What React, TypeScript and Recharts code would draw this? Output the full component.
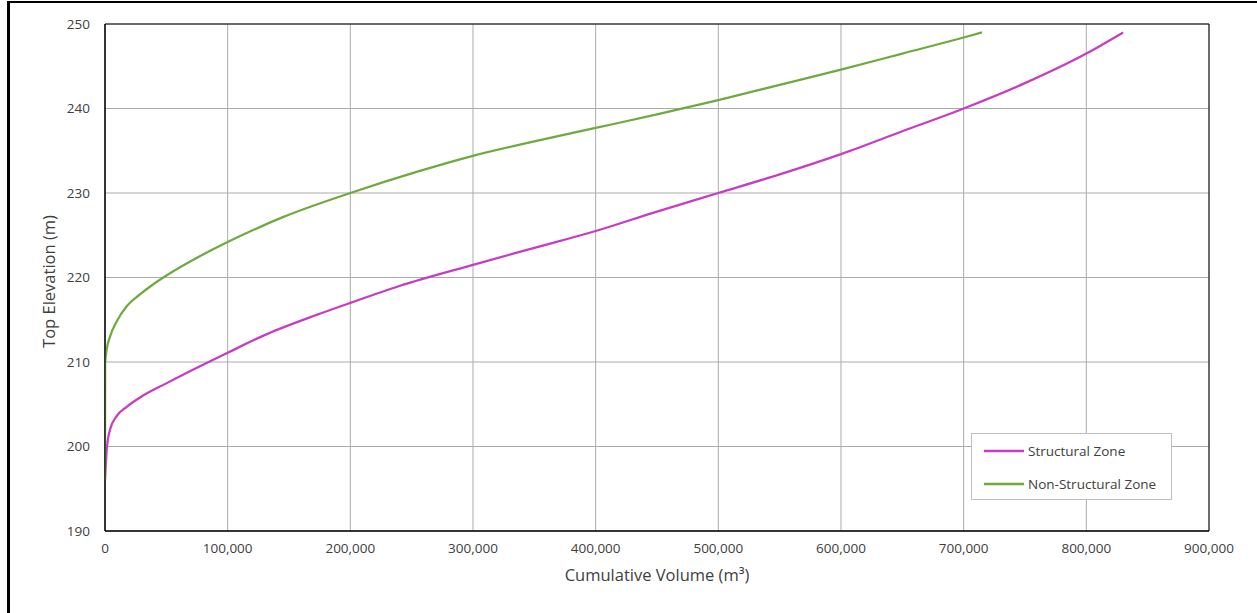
import {
  LineChart,
  Line,
  XAxis,
  YAxis,
  CartesianGrid,
  Legend,
  ReferenceArea,
} from 'recharts';

// Structural zone: cumulative volume (m3) vs top elevation (m)
const structuralVolume = [
  0, 1400, 4100, 9500, 17700, 28500, 50300, 77400, 100000, 132000, 173000, 200000, 240000,
  300000, 350000, 400000, 450000, 500000, 550000, 600000, 650000, 700000, 750000, 800000, 830000,
];
const structuralElevation = [
  196.1, 199.6, 202.0, 203.6, 204.7, 205.8, 207.5, 209.5, 211.1, 213.3, 215.6, 217.0, 219.0,
  221.5, 223.5, 225.5, 227.8, 230.0, 232.2, 234.6, 237.3, 240.0, 243.0, 246.5, 249.0,
];

// Non-structural zone
const nonStructuralVolume = [
  0, 100, 1400, 4100, 9500, 17700, 28500, 39400, 53000, 72000, 100000, 119000, 146000, 200000,
  254000, 300000, 350000, 400000, 450000, 500000, 550000, 600000, 650000, 700000, 715000,
];
const nonStructuralElevation = [
  196, 209.8, 211.5, 213.0, 214.8, 216.6, 218.0, 219.2, 220.5, 222.1, 224.2, 225.5, 227.2, 230.0,
  232.5, 234.4, 236.1, 237.7, 239.3, 241.0, 242.8, 244.6, 246.5, 248.4, 249.0,
];

const seriesNames = ['Structural Zone', 'Non-Structural Zone'];
const xTicks = [0, 100000, 200000, 300000, 400000, 500000, 600000, 700000, 800000, 900000];
const yTicks = [190, 200, 210, 220, 230, 240, 250];

const structuralData = structuralVolume.map((v, i) => ({ vol: v, elev: structuralElevation[i] }));
const nonStructuralData = nonStructuralVolume.map((v, i) => ({ vol: v, elev: nonStructuralElevation[i] }));

const FONT = '"Open Sans", sans-serif';
const TEXT = '#404040';

function YTitle({ viewBox }: any) {
  const cx = 48;
  const cy = viewBox.y + viewBox.height / 2 + 4;
  return (
    <text
      x={cx}
      y={cy}
      transform={`rotate(-90 ${cx} ${cy})`}
      textAnchor="middle"
      dominantBaseline="central"
      fill={TEXT}
      fontSize={16.5}
      fontFamily={FONT}
    >
      Top Elevation (m)
    </text>
  );
}

function LegendBox({ payload }: any) {
  return (
    <div
      style={{
        width: 201,
        height: 67,
        boxSizing: 'border-box',
        border: '1px solid #BFBFBF',
        background: '#fff',
        fontFamily: FONT,
        fontSize: 13.5,
        color: TEXT,
      }}
    >
      {(payload || []).map((entry: any) => (
        <div key={entry.value} style={{ display: 'flex', alignItems: 'center', height: 33, paddingLeft: 12 }}>
          <svg width={40} height={4} style={{ marginRight: 4 }}>
            <line x1={0} y1={2} x2={40} y2={2} stroke={entry.color} strokeWidth={2.5} />
          </svg>
          <span>{entry.value}</span>
        </div>
      ))}
    </div>
  );
}

export default function App() {
  return (
    <div style={{ position: 'absolute', left: 0, top: 0, width: 1257, height: 613, background: '#fff', overflow: 'hidden' }}>
      <div
        style={{
          position: 'absolute',
          left: 7,
          top: 1,
          width: 1300,
          height: 700,
          borderTop: '2px solid #000',
          borderLeft: '3px solid #000',
        }}
      />
      <div style={{ position: 'absolute', left: 0, top: 0 }}>
        <LineChart width={1257} height={613} margin={{ top: 24, right: 48, left: 0, bottom: 0 }}>
          <CartesianGrid stroke="#ABABAB" strokeWidth={1} />
          <XAxis
            type="number"
            dataKey="vol"
            domain={[0, 900000]}
            ticks={xTicks}
            interval={0}
            allowDataOverflow
            tickFormatter={(v: number) => v.toLocaleString('en-US')}
            tickLine={false}
            tickSize={0}
            tickMargin={12}
            axisLine={{ stroke: '#000' }}
            tick={{ fill: TEXT, fontSize: 13.5, fontFamily: FONT }}
            height={82}
            label={{
              value: 'Cumulative Volume (m³)',
              position: 'insideTop',
              offset: 38,
              fill: TEXT,
              fontSize: 16.5,
              fontFamily: FONT,
            }}
          />
          <YAxis
            type="number"
            domain={[190, 250]}
            ticks={yTicks}
            interval={0}
            allowDataOverflow
            tickLine={false}
            tickSize={0}
            tickMargin={15}
            axisLine={{ stroke: '#000' }}
            tick={{ fill: TEXT, fontSize: 13.5, fontFamily: FONT }}
            width={105}
            label={<YTitle />}
          />
          <ReferenceArea x1={0} x2={900000} y1={190} y2={250} fill="none" stroke="#000" strokeWidth={1} />
          <Line
            data={structuralData}
            dataKey="elev"
            name={seriesNames[0]}
            type="monotone"
            stroke="#C83CC4"
            strokeWidth={2.25}
            dot={false}
            isAnimationActive={false}
          />
          <Line
            data={nonStructuralData}
            dataKey="elev"
            name={seriesNames[1]}
            type="monotone"
            stroke="#6FAA40"
            strokeWidth={2.25}
            dot={false}
            isAnimationActive={false}
          />
          <Legend
            layout="horizontal"
            verticalAlign="middle"
            align="center"
            itemSorter={(item: any) => seriesNames.indexOf(item.value)}
            content={<LegendBox />}
            wrapperStyle={{ position: 'absolute', left: 971, top: 433, width: 201, height: 67 }}
          />
        </LineChart>
      </div>
    </div>
  );
}
